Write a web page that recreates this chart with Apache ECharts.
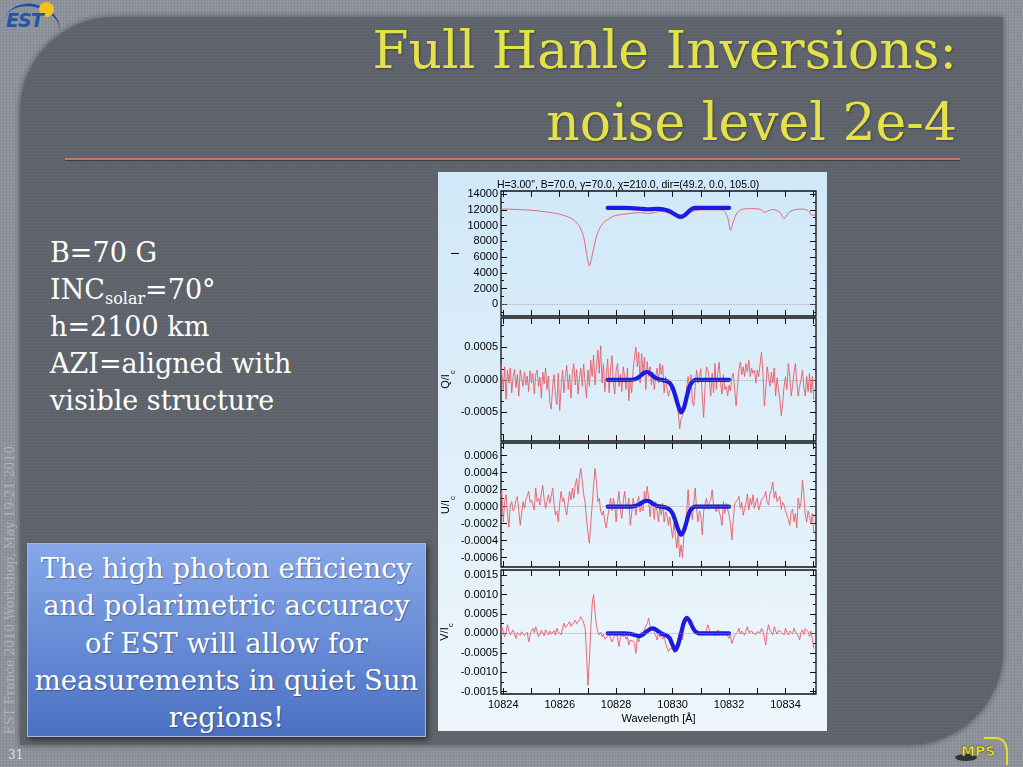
<!DOCTYPE html>
<html>
<head>
<meta charset="utf-8">
<script src="https://cdn.jsdelivr.net/npm/echarts@6.0.0/dist/echarts.min.js"></script>
<style>
  html, body { margin:0; padding:0; }
  body { width:1023px; height:767px; position:relative; overflow:hidden;
    background-color:#8d929b;
    background-image:
      repeating-linear-gradient(0deg, rgba(255,255,255,0.06) 0 1px, transparent 1px 3px),
      repeating-linear-gradient(90deg, rgba(0,0,0,0.05) 0 1px, transparent 1px 3px);
    font-family:"DejaVu Serif", serif; }
  #inner { position:absolute; left:20px; top:17px; width:983px; height:728px;
    background-color:#5f636b;
    background-image:
      repeating-linear-gradient(0deg, rgba(255,255,255,0.025) 0 1px, transparent 1px 3px),
      repeating-linear-gradient(90deg, rgba(0,0,0,0.03) 0 1px, transparent 1px 3px);
    border-radius:95px 0 95px 0; box-shadow:0 0 6px rgba(0,0,0,0.45); }
  #title { position:absolute; right:66px; top:14px; text-align:right; color:#e4e24a;
    font-size:52px; line-height:72px; white-space:nowrap; text-shadow:1px 1px 2px rgba(0,0,0,0.35); }
  #rule { position:absolute; left:65px; top:158px; width:895px; height:2px; background:#b47e64;
    box-shadow:0 1px 1px rgba(0,0,0,0.4); }
  #params { position:absolute; left:50px; top:234px; color:#fff; font-size:27px; line-height:37px; white-space:nowrap; }
  #params sub { font-size:16px; line-height:0; vertical-align:-0.3em; }
  #note { position:absolute; left:27px; top:543px; width:399px; height:194px; box-sizing:border-box;
    background:linear-gradient(#86a8ea, #4a70c2); border:1px solid #a7b8d8;
    box-shadow:2px 3px 5px rgba(0,0,0,0.5); color:#fff; text-align:center;
    font-size:27.5px; line-height:37.3px; padding-top:6px; white-space:nowrap;
    text-shadow:1px 1px 1px rgba(0,0,0,0.3); }
  #vert { position:absolute; left:-140px; top:583px; width:300px; height:14px; line-height:14px;
    transform:rotate(-90deg); transform-origin:50% 50%; text-align:center;
    color:#aeb2ba; font-size:12.5px; white-space:nowrap; }
  #pnum { position:absolute; left:8px; top:748px; color:#e0e0e0; font-size:12px; }
  #panel { position:absolute; left:438px; top:172px; width:389px; height:559px;
    background:linear-gradient(#d0e8f8, #eef6fc); }
  #chart { position:absolute; left:0; top:0; width:1023px; height:767px; }
  #est { position:absolute; left:6px; top:9px; color:#2356a8; font:italic bold 19px "DejaVu Sans", sans-serif; letter-spacing:-1px; }
  #sun { position:absolute; left:39px; top:2px; width:15px; height:15px; border-radius:50%; background:#f4c21c; }
  #arc { position:absolute; left:4px; top:4px; width:56px; height:40px; border-top:3px solid #1f4f9f; border-radius:50% 50% 0 0; transform:rotate(14deg); }
  #mps { position:absolute; left:961px; top:743px; color:#efe52a; font:bold 14px "DejaVu Sans", sans-serif;
    -webkit-text-stroke:0.5px #444; }
  #mpsarc { position:absolute; left:984px; top:737px; width:22px; height:26px; border:2px solid #e6dc2a; border-left:none; border-bottom:none; border-radius:0 50% 0 0; }
  #swoosh { position:absolute; left:955px; top:754px; width:22px; height:7px; border-radius:50%; background:#2f3338; }
</style>
</head>
<body>
<div id="inner"></div>
<div id="arc"></div><div id="sun"></div><div id="est">EST</div>
<div id="title">Full Hanle Inversions:<br>noise level 2e-4</div>
<div id="rule"></div>
<div id="params">B=70 G<br>INC<sub>solar</sub>=70°<br>h=2100 km<br>AZI=aligned with<br>visible structure</div>
<div id="note">The high photon efficiency<br>and polarimetric accuracy<br>of EST will allow for<br>measurements in quiet Sun<br>regions!</div>
<div id="vert">EST France 2010 Workshop, May 19-21 2010</div>
<div id="pnum">31</div>
<div id="swoosh"></div><div id="mpsarc"></div><div id="mps">MPS</div>
<div id="panel"></div>
<div id="chart"></div>
<script>
// ---------------- DATA ----------------
// Observed Stokes profiles are sampled from 10823.90 Å every 0.05 Å
const WAVE_START = 10823.90;
const WAVE_STEP = 0.05;

// Intensity (smooth) – wavelength / value
const iWave = [10823.9, 10824.0, 10824.5, 10825.0, 10825.5, 10826.0, 10826.3, 10826.5, 10826.7, 10826.85,
  10826.95, 10827.05, 10827.15, 10827.3, 10827.45, 10827.6, 10827.8, 10828.0, 10828.4, 10828.8,
  10829.0, 10829.2, 10829.4, 10829.6, 10829.8, 10830.0, 10830.15, 10830.3, 10830.45, 10830.6,
  10830.8, 10831.0, 10831.5, 10831.8, 10831.95, 10832.05, 10832.15, 10832.3, 10832.5, 10832.8,
  10833.1, 10833.25, 10833.4, 10833.55, 10833.8, 10833.95, 10834.1, 10834.3, 10834.6, 10834.8,
  10834.95, 10835.05];
const iObs = [12100, 12100, 12050, 11950, 11750, 11450, 11100, 10700, 9900, 8500,
  6500, 4900, 6200, 8600, 9900, 10500, 11000, 11300, 11500, 11650,
  11600, 11550, 11700, 11800, 11650, 11400, 11000, 10850, 11200, 11650,
  11900, 12000, 12000, 11950, 11000, 9400, 10500, 11700, 12100, 12150,
  12100, 11700, 11900, 12050, 11700, 10900, 11600, 12000, 12100, 11900,
  11300, 11400];

// Q/Ic, U/Ic, V/Ic observed, in units of 1e-4
const qObs = [
  2.5, 1.0, -1.5, 2.0, -3.0, 1.5, -0.5, 1.8, -2.0, 0.5, 1.6, -1.2, 0.8, -2.5, 1.5, 0.2, -1.0, 1.2, -0.8, 0.6,
  -1.8, 1.4, -0.5, 1.0, -2.2, 0.8, 1.5, -1.0, 0.4, -2.8, 1.2, -0.6, 1.8, -1.5, 0.6, -3.5, -4.5, -1.0, 0.8, -2.5,
  -3.8, 1.0, -4.7, -1.2, 1.5, -2.0, 0.5, 2.2, -1.5, 0.8, -2.8, 1.2, 2.5, -0.8, 1.6, -2.2, 0.4, 1.8, -1.0, 2.4,
  -0.5, -2.8, 1.5, -1.0, 3.0, 0.5, 3.8, -0.8, 2.0, 4.6, 1.0, 5.2, -0.5, 2.5, -1.8, 0.8, 3.2, -2.0, 1.5, 3.7,
  -0.5, -2.2, 1.5, 2.5, -1.0, 0.8, -1.8, 2.0, 0.5, -1.5, 1.8, -3.2, 0.2, -2.0, 1.5, 3.5, 5.0, 2.0, 4.2, -0.5,
  4.0, 1.0, 3.5, -1.5, 2.8, 0.5, 2.0, -0.8, 1.2, -1.5, 0.5, 1.8, -0.5, 2.5, 0.8, 2.2, -2.0, 0.5, -1.2, -2.5,
  -2.5, -1.0, -2.0, -1.5, -3.5, -2.5, -5.0, -7.5, -6.0, -5.5, -3.5, -4.0, -1.0, 0.5, -1.5, 0.8, -3.5, -4.0, -1.0, 1.5,
  -0.5, 0.5, 1.7, -2.5, -5.8, -1.0, 2.0, 1.5, 0.0, -2.5, 1.0, -2.0, 2.5, -1.5, 1.0, 2.7, -0.5, -2.2, 0.8, -1.5,
  -1.0, -2.5, -0.8, -1.7, 0.5, 1.0, -1.5, -4.0, -1.0, 1.5, 2.7, 0.8, 2.0, 0.5, 2.5, 1.2, 3.0, 0.5, 1.8, 1.0,
  1.5, -0.5, 1.5, 0.5, 2.5, 4.2, 1.0, -4.0, -1.5, 2.0, 0.5, -1.0, 1.2, -0.5, 1.8, -2.5, 0.3, -1.5, -3.0, -5.5,
  -3.5, -1.0, 0.5, -1.5, 2.5, 0.5, -2.5, -1.0, 1.0, 2.5, -0.5, -2.5, -1.0, 0.0, 1.5, -1.2, -2.5, 0.5, -1.8, 1.0,
  -2.0, 0.5, -3.0];
const uObs = [
  1.2, 1.8, -1.8, 0.5, 1.4, -0.8, -2.4, 0.2, 0.6, -0.5, -0.2, 0.8, 1.2, -0.5, -2.2, -0.8, 0.6, -0.2, 0.8, 1.0,
  1.8, 0.5, 0.8, 1.0, -0.4, 2.2, 0.6, 1.0, 0.2, 1.6, 2.5, 0.8, -0.2, 0.6, 1.4, 0.4, 1.2, 2.2, 0.3, -1.0,
  -0.5, -1.8, 0.4, 1.8, 0.6, 1.0, -0.3, -1.0, 0.5, 1.8, 0.8, 2.2, 1.0, 2.6, 3.3, 1.5, 3.5, 4.5, 3.0, 1.4,
  0.5, -1.5, -3.0, -4.3, -2.0, 0.2, 2.5, 4.5, 3.0, 0.6, 1.0, -0.5, -1.0, -0.5, -1.8, -2.5, -1.2, -0.2, 1.0, -0.5,
  1.0, 0.2, -1.8, 0.5, 1.8, -0.4, -1.4, 0.6, 1.8, 0.3, -0.2, 1.0, -2.2, -0.8, 1.0, 0.2, -1.0, 0.5, 1.2, -0.6,
  0.2, -0.5, 1.8, 0.6, 2.4, 1.0, -1.2, 0.5, 0.2, -1.5, 0.6, 0.8, -1.8, 0.3, -1.0, 0.4, -1.8, -0.6, -1.0, -2.2,
  -1.2, -2.5, -3.7, -1.8, -3.5, -4.9, -3.0, -5.9, -4.5, -6.0, -3.3, -2.0, -0.6, 2.0, -1.0, -0.2, -1.5, 0.5, 2.2, -0.4,
  -1.8, -0.5, -1.0, -3.3, -0.6, 0.4, 1.0, -0.3, 0.5, 0.8, 2.0, 0.2, -0.2, -0.6, 0.3, -0.6, -1.2, -2.2, 0.6, -0.8,
  0.4, 0.6, -1.0, -2.0, -3.9, -1.5, 0.4, 0.2, 0.8, 1.2, -0.2, 0.5, -1.0, -0.3, 0.4, 1.5, -0.4, 1.0, 0.2, 1.4,
  -0.2, 0.5, 1.0, -0.4, -0.6, 0.8, 0.6, 1.2, 1.8, 0.5, 0.2, 1.5, 2.0, 2.9, 1.0, 1.8, 0.6, 0.4, 1.2, -0.3,
  0.5, 0.2, -0.5, -1.0, -1.5, -2.2, -0.6, -0.3, -1.8, -0.8, -2.5, 1.0, -0.2, 0.5, 3.1, 1.5, -1.0, -1.8, -0.5, -1.2,
  -2.0, -0.8, -3.1];
const vObs = [
  0.8, 1.7, 0.5, -0.9, 0.4, 2.2, 0.6, -0.4, 0.3, 0.9, -0.2, -1.3, 0.2, 0.5, -0.5, 0.4, 0.9, -0.6, -1.0, 0.3,
  -2.2, -0.5, 0.6, 1.3, 0.2, 1.7, 0.4, -0.9, -0.3, 0.8, 0.5, -0.6, 0.9, 0.2, -0.4, 0.6, -0.2, 0.0, 0.7, -0.5,
  1.3, 0.4, 0.9, -0.4, 1.2, 2.6, 1.5, 1.7, 2.4, 3.0, 1.8, 2.2, 2.8, 3.4, 2.5, 3.0, 3.4, 4.3, 3.6, 2.6,
  1.5, -5.0, -13.4, -7.0, 1.0, 7.5, 10.0, 5.5, 2.0, 0.5, -0.4, 0.3, -0.9, -0.2, -1.5, -1.7, -0.6, 0.0, -1.2, -2.2,
  -2.2, -0.5, 0.4, -1.2, -3.4, -1.0, 0.0, -0.9, -0.3, -1.5, -0.8, -3.0, -1.8, -1.3, -2.0, -2.6, -5.2, -1.0, -2.2, -0.5,
  0.4, -0.4, 1.2, 0.8, 2.5, 3.9, 1.8, 0.9, 1.5, 0.2, -0.5, -1.7, 0.3, -1.0, -0.2, -1.5, -0.4, -2.5, -3.0, -4.7,
  -4.0, -3.5, -3.9, -5.0, -4.2, -2.5, -1.0, 0.4, -0.6, -1.7, 1.5, 2.8, 3.4, 4.2, 3.0, 2.2, 1.7, 0.6, 1.2, 0.4,
  -0.5, 0.3, -0.4, 0.6, 0.9, -0.2, 1.2, 2.2, 0.8, -0.3, 0.4, 0.8, -0.6, 0.2, 0.9, 0.5, -0.3, 0.6, 0.0, 0.4,
  0.0, -0.5, -1.3, -0.4, -2.6, -1.5, -0.4, -0.9, 0.3, 1.3, -0.2, 0.6, 0.4, -0.5, 0.8, 1.7, 0.2, -0.3, 0.6, 0.0,
  0.4, -0.3, 0.4, 0.9, 0.2, 1.3, 0.5, -1.0, -3.0, 0.5, 2.2, 0.8, 0.4, -0.4, 1.7, 0.6, -0.2, 0.8, 1.2, 0.3,
  0.5, -0.4, 1.3, 0.2, -0.4, 0.6, 0.9, -0.2, 1.3, 0.4, 0.8, -0.6, -1.7, 0.2, 0.9, -0.3, 1.2, 1.7, 0.4, -0.8,
  0.6, -1.5, -3.9];

// Inversion fits
const fitWave = [10827.7, 10828.0, 10828.3, 10828.5, 10828.6, 10828.7, 10828.8, 10828.9, 10829.0, 10829.1,
  10829.2, 10829.3, 10829.4, 10829.5, 10829.6, 10829.7, 10829.8, 10829.9, 10830.0, 10830.1,
  10830.2, 10830.3, 10830.4, 10830.5, 10830.6, 10830.7, 10830.8, 10830.9, 10831.0, 10831.5, 10832.0];
const iFit = [12250, 12250, 12250, 12230, 12200, 12180, 12150, 12130, 12100, 12080,
  12080, 12100, 12120, 12120, 12100, 12050, 11950, 11800, 11600, 11380,
  11200, 11130, 11250, 11550, 11900, 12150, 12250, 12250, 12250, 12250, 12250];
const qFit = [0, 0, 0, 0, 0.05, 0.15, 0.4, 0.75, 1.1, 1.2, 1.0, 0.6, 0.3, 0.1, 0, -0.1, -0.2, -0.5, -1.2, -2.5,
  -4.0, -5.0, -4.3, -2.6, -1.0, -0.3, 0, 0, 0, 0, 0];
const uFit = [0, 0, 0, 0, 0.03, 0.1, 0.25, 0.45, 0.65, 0.7, 0.6, 0.35, 0.15, 0.05, 0, -0.05, -0.15, -0.35, -0.8, -1.7,
  -2.7, -3.3, -2.8, -1.7, -0.6, -0.15, 0, 0, 0, 0, 0];
const vFit = [0, 0, 0, -0.1, -0.3, -0.5, -0.7, -0.5, 0, 0.6, 1.1, 1.3, 1.0, 0.5, 0, -0.3, -0.6, -1.3, -3.0, -4.3,
  -2.8, 0, 2.8, 4.0, 3.2, 1.7, 0.5, 0.1, 0, 0, 0];

// Tick values
const xTicks = [10824, 10825, 10826, 10827, 10828, 10829, 10830, 10831, 10832, 10833, 10834, 10835];
const xLabels = [10824, 10826, 10828, 10830, 10832, 10834];
const iTicks = [0, 2000, 4000, 6000, 8000, 10000, 12000, 14000];
const iMinor = [-1000, 1000, 3000, 5000, 7000, 9000, 11000, 13000];
const qTicks = [-5, 0, 5];
const qMinor = [-8.333, -6.667, -3.333, -1.667, 1.667, 3.333, 6.667, 8.333];
const uTicks = [-6, -4, -2, 0, 2, 4, 6];
const uMinor = [-7, -5, -3, -1, 1, 3, 5, 7];
const vTicks = [-15, -10, -5, 0, 5, 10, 15];
const vMinor = [-12.5, -7.5, -2.5, 2.5, 7.5, 12.5];
const titleText = 'H=3.00", B=70.0, \u03b3=70.0, \u03c7=210.0, dir=(49.2, 0.0, 105.0)';

// ---------------- CHART ----------------
const pol = v => (v / 10000).toFixed(4);
const obsPairs = arr => arr.map((v, i) => [WAVE_START + i * WAVE_STEP, v]);
const fitPairs = arr => arr.map((v, i) => [fitWave[i], v]);

const panels = [
  { top: 191, height: 125, min: -1500, max: 14400, ticks: iTicks, minor: iMinor, fmt: v => String(v),
    name: 'I', obs: iObs.map((v, i) => [iWave[i], v]), fit: fitPairs(iFit), smoothObs: 0.3, gap: 40 },
  { top: 318, height: 123, min: -9.4, max: 9.5, ticks: qTicks, minor: qMinor, fmt: pol,
    name: '{m|Q/I}{s|c}', obs: obsPairs(qObs), fit: fitPairs(qFit), smoothObs: false, gap: 43 },
  { top: 443, height: 124, min: -7.1, max: 7.5, ticks: uTicks, minor: uMinor, fmt: pol,
    name: '{m|U/I}{s|c}', obs: obsPairs(uObs), fit: fitPairs(uFit), smoothObs: false, gap: 43 },
  { top: 570, height: 124, min: -15.6, max: 16.3, ticks: vTicks, minor: vMinor, fmt: pol,
    name: '{m|V/I}{s|c}', obs: obsPairs(vObs), fit: fitPairs(vFit), smoothObs: false, gap: 46 }
];

const FONT = 'Liberation Sans';
const grids = [], xAxes = [], yAxes = [], series = [];
panels.forEach((p, g) => {
  grids.push({ left: 501, width: 315, top: p.top, height: p.height, show: true,
    borderColor: '#111', borderWidth: 1.3, backgroundColor: 'transparent' });
  const xb = { gridIndex: g, type: 'value', min: 10823.92, max: 10835.08,
    axisLine: { show: false, onZero: false }, splitLine: { show: false } };
  const tick = (vals, len) => ({ show: true, inside: true, length: len, customValues: vals,
    lineStyle: { color: '#111', width: 1 } });
  xAxes.push(Object.assign({}, xb, { position: 'bottom', axisTick: tick(xTicks, 6),
    axisLabel: g === 3 ? { show: true, customValues: xLabels, formatter: v => String(v), fontFamily: FONT, fontSize: 11, color: '#000', margin: 5 } : { show: false },
    name: g === 3 ? 'Wavelength [\u00c5]' : '', nameLocation: 'middle', nameGap: 19,
    nameTextStyle: { fontFamily: FONT, fontSize: 11, color: '#000' } }));
  xAxes.push(Object.assign({}, xb, { position: 'top', axisTick: tick(xTicks, 6), axisLabel: { show: false } }));
  const yb = { gridIndex: g, type: 'value', min: p.min, max: p.max,
    axisLine: { show: false, onZero: false }, splitLine: { show: false } };
  yAxes.push(Object.assign({}, yb, { position: 'left', axisTick: tick(p.ticks, 6),
    axisLabel: { show: true, customValues: p.ticks, formatter: p.fmt, fontFamily: FONT, fontSize: 11, color: '#000', margin: 3 },
    name: p.name, nameLocation: 'middle', nameRotate: 90, nameGap: p.gap,
    nameTextStyle: { fontFamily: FONT, fontSize: 11, color: '#000',
      rich: { m: { fontFamily: FONT, fontSize: 11, color: '#000', lineHeight: 11, verticalAlign: 'top' },
              s: { fontFamily: FONT, fontSize: 8, color: '#000', lineHeight: 16, verticalAlign: 'bottom' } } } }));
  yAxes.push(Object.assign({}, yb, { position: 'left', axisTick: tick(p.minor, 3), axisLabel: { show: false } }));
  yAxes.push(Object.assign({}, yb, { position: 'right', axisTick: tick(p.ticks, 6), axisLabel: { show: false } }));
  yAxes.push(Object.assign({}, yb, { position: 'right', axisTick: tick(p.minor, 3), axisLabel: { show: false } }));

  series.push({ type: 'line', xAxisIndex: 2 * g, yAxisIndex: 4 * g, data: p.obs, showSymbol: false,
    smooth: p.smoothObs, lineStyle: { color: '#ea5a66', width: 0.9 }, z: 3, silent: true,
    markLine: { silent: true, symbol: 'none', label: { show: false },
      lineStyle: { type: 'dotted', color: '#9a9a9a', width: 0.8 }, data: [{ yAxis: 0 }] } });
  series.push({ type: 'line', xAxisIndex: 2 * g, yAxisIndex: 4 * g, data: p.fit, showSymbol: false,
    smooth: 0.35, lineStyle: { color: '#1c1ce0', width: 4.2, cap: 'round', join: 'round' }, z: 4, silent: true });
});

const chart = echarts.init(document.getElementById('chart'), null, { renderer: 'canvas' });
chart.setOption({
  animation: false,
  backgroundColor: 'transparent',
  graphic: [{ type: 'text', left: 497, top: 180,
    style: { text: titleText, fontFamily: FONT, fontSize: 10.5, fill: '#000' } }],
  grid: grids, xAxis: xAxes, yAxis: yAxes, series: series
});
</script>
</body>
</html>
